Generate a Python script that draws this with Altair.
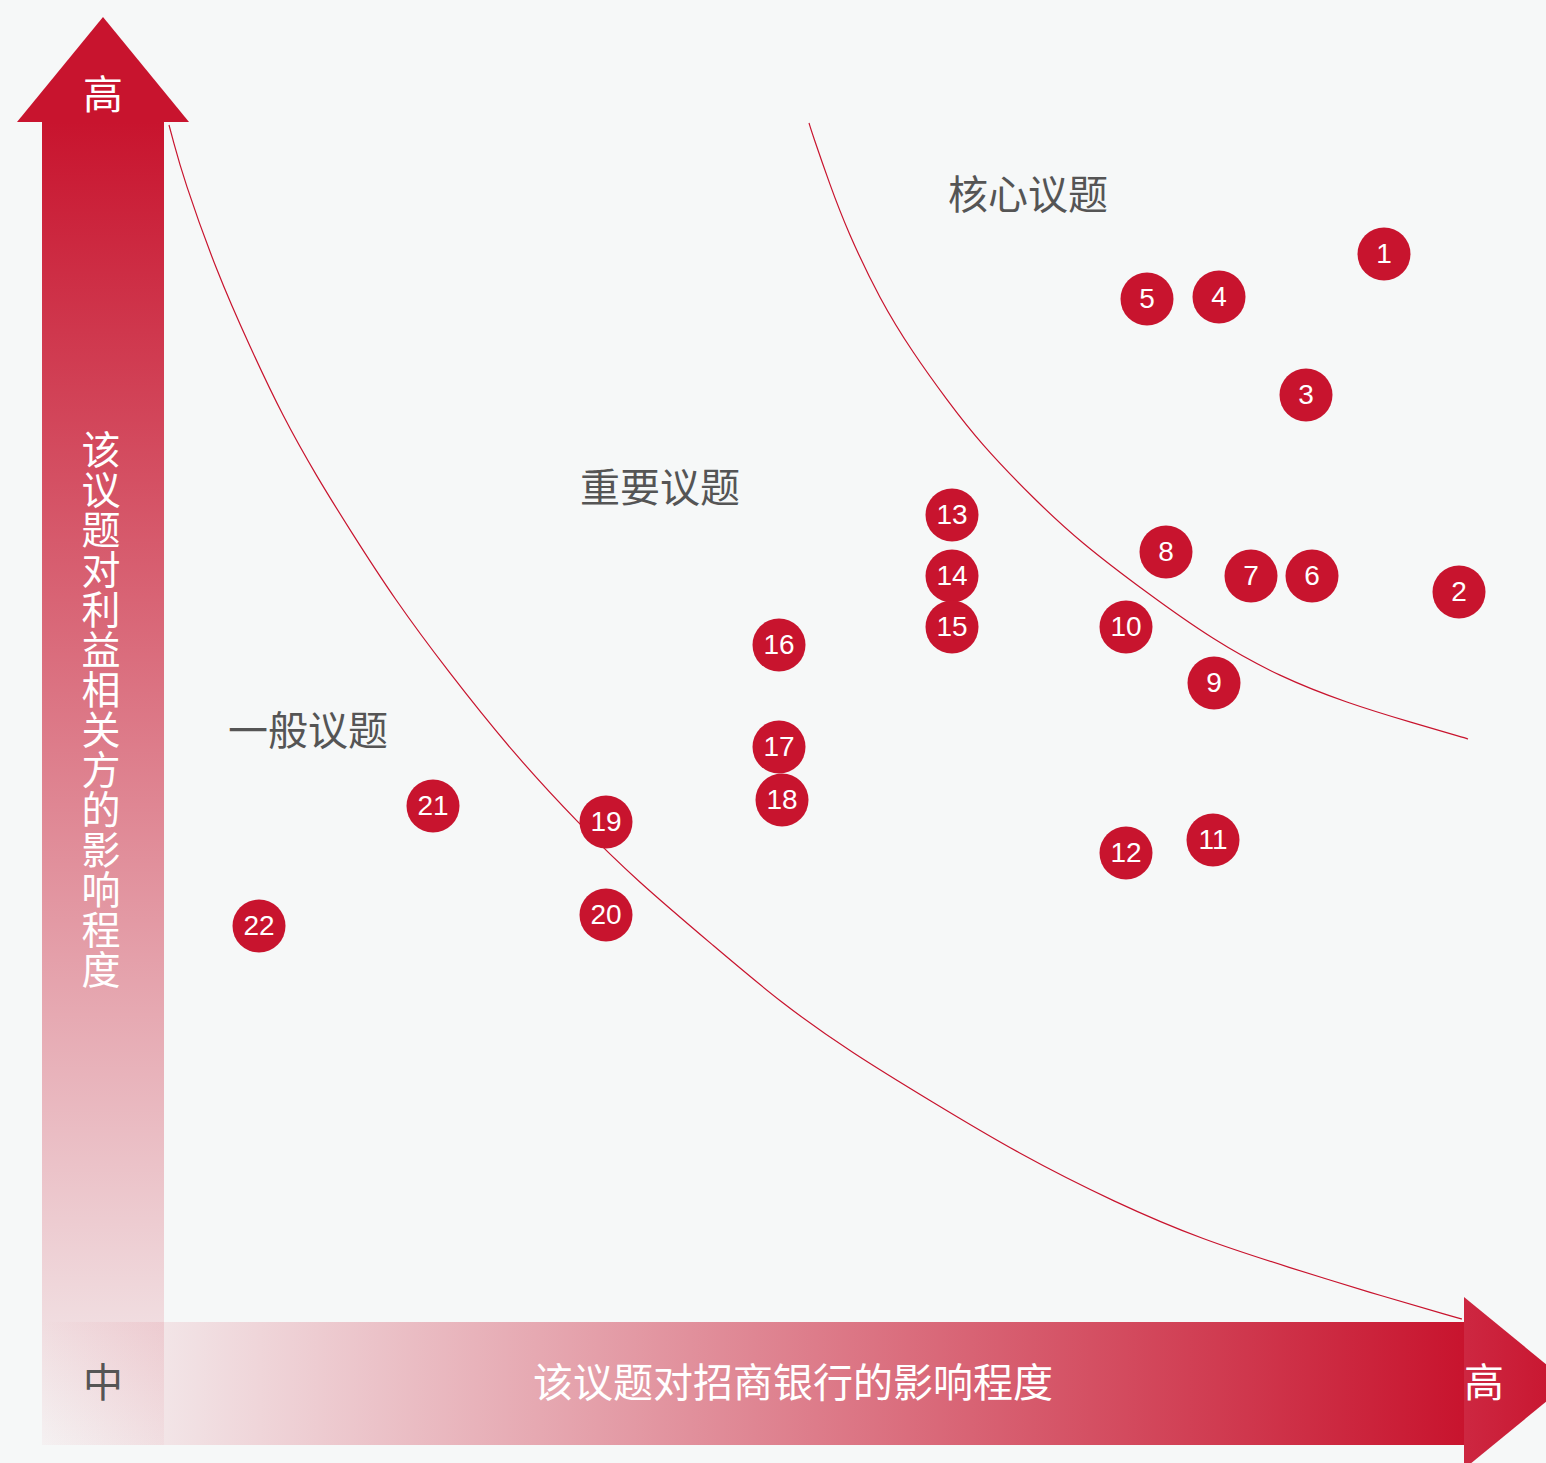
import altair as alt
import pandas as pd

W, H = 1546, 1463
RED = "#C8142E"
BG = "#F6F8F8"
GREY = "#555555"
CJK = "Noto Sans CJK SC"
LATIN = "Liberation Sans"

# ---------------- data ----------------
issue_ids = [str(i) for i in range(1, 23)]
impact_on_bank = [1384, 1459, 1306, 1219, 1147, 1312, 1251, 1166, 1214, 1126, 1213,
                  1126, 952, 952, 952, 779, 779, 782, 606, 606, 433, 259]
impact_on_stakeholders = [254, 592, 395, 297, 299, 576, 576, 552, 683, 627, 840,
                          853, 515, 576, 627, 645, 747, 800, 822, 915, 806, 926]

outer_curve_x = [169, 173, 183, 217, 250, 283, 317, 350, 395, 447, 513, 580, 636, 715,
                 781, 852, 929, 1017, 1116, 1203, 1291, 1368, 1458, 1462]
outer_curve_y = [125, 140, 177, 273, 347, 417, 477, 530, 600, 670, 753, 825, 880, 947,
                 1003, 1053, 1100, 1153, 1203, 1240, 1268, 1292, 1318, 1319]
inner_curve_x = [809, 812, 830, 847, 880, 913, 947, 980, 1035, 1080, 1147, 1213, 1280,
                 1347, 1413, 1465, 1468]
inner_curve_y = [123, 133, 185, 230, 300, 353, 400, 443, 500, 542, 593, 640, 677,
                 703, 723, 738, 739]

region_names = ["核心议题", "重要议题", "一般议题"]
y_axis_title = "该议题对利益相关方的影响程度"
x_axis_title = "该议题对招商银行的影响程度"
level_high = "高"
level_mid = "中"

# ---------------- scales ----------------
xs = alt.Scale(domain=[0, W], range=[0, W], nice=False, zero=False)
ys = alt.Scale(domain=[0, H], range=[0, H], nice=False, zero=False)


def X(f="x"):
    return alt.X(f"{f}:Q", scale=xs, axis=None)


def Y(f="y"):
    return alt.Y(f"{f}:Q", scale=ys, axis=None)


def grad(stops, horizontal=False):
    return alt.Gradient(
        gradient="linear",
        stops=[alt.GradientStop(color=c, offset=o) for o, c in stops],
        x1=0, y1=0, x2=1 if horizontal else 0, y2=0 if horizontal else 1,
    )


# arrows
vbar = alt.Chart(pd.DataFrame({"x": [42], "x2": [164], "y": [122], "y2": [1445]})).mark_rect(
    fill=grad([(0, "rgba(200,20,46,1)"), (1, "rgba(200,20,46,0.03)")]), strokeWidth=0
).encode(x=X(), x2="x2:Q", y=Y(), y2="y2:Q")

hbar = alt.Chart(pd.DataFrame({"x": [42], "x2": [1464], "y": [1322], "y2": [1445]})).mark_rect(
    fill=grad([(0, "rgba(200,20,46,0)"), (1, "rgba(200,20,46,1)")], horizontal=True), strokeWidth=0
).encode(x=X(), x2="x2:Q", y=Y(), y2="y2:Q")

vhead = alt.Chart(pd.DataFrame({"x": [17, 103, 189], "y": [122, 17, 122], "y2": [122, 122, 122]})).mark_area(
    color=RED, interpolate="linear", orient="vertical"
).encode(x=X(), y=Y(), y2="y2:Q")

hhead = alt.Chart(pd.DataFrame({"x": [1464, 1569], "y": [1297, 1383], "y2": [1469, 1383]})).mark_area(
    fill=grad([(0, "#CD2741"), (1, RED)], horizontal=True), interpolate="linear",
    orient="vertical", clip=True
).encode(x=X(), y=Y(), y2="y2:Q")

# curves
outer = alt.Chart(pd.DataFrame({"x": outer_curve_x, "y": outer_curve_y})).mark_line(
    color=RED, strokeWidth=1.2, interpolate="basis"
).encode(x=X(), y=Y(), order="x:Q")
inner = alt.Chart(pd.DataFrame({"x": inner_curve_x, "y": inner_curve_y})).mark_line(
    color=RED, strokeWidth=1.2, interpolate="basis"
).encode(x=X(), y=Y(), order="x:Q")

# issues
issues = pd.DataFrame({"id": issue_ids, "x": impact_on_bank, "y": impact_on_stakeholders})
dots = alt.Chart(issues).mark_circle(color=RED, opacity=1, size=2809).encode(x=X(), y=Y())
nums = alt.Chart(issues).mark_text(
    color="white", font=LATIN, fontSize=28, baseline="middle", align="center", dy=1
).encode(x=X(), y=Y(), text="id:N")


def label(txt, x, y, color, size=40, **kw):
    return alt.Chart(pd.DataFrame({"t": [txt], "x": [x], "y": [y]})).mark_text(
        color=color, font=CJK, fontSize=size, baseline="middle", align="center", **kw
    ).encode(x=X(), y=Y(), text="t:N")


texts = [
    label(level_high, 103, 97, "white", 40),
    label(level_mid, 103, 1385, GREY, 40),
    label(level_high, 1484, 1385, "white", 40),
    label(x_axis_title, 793, 1385, "white", 40),
    label("\n".join(y_axis_title), 101, 452, "white", 39, lineBreak="\n", lineHeight=40),
    label(region_names[0], 1028, 197, GREY, 40),
    label(region_names[1], 660, 490, GREY, 40),
    label(region_names[2], 308, 733, GREY, 40),
]

chart = alt.layer(vbar, hbar, vhead, hhead, outer, inner, dots, nums, *texts).properties(
    width=W, height=H, background=BG, padding=0,
    autosize=alt.AutoSizeParams(type="none"),
).configure_view(stroke=None)

chart.save("out.html", embed_options={"renderer": "svg", "actions": False})
